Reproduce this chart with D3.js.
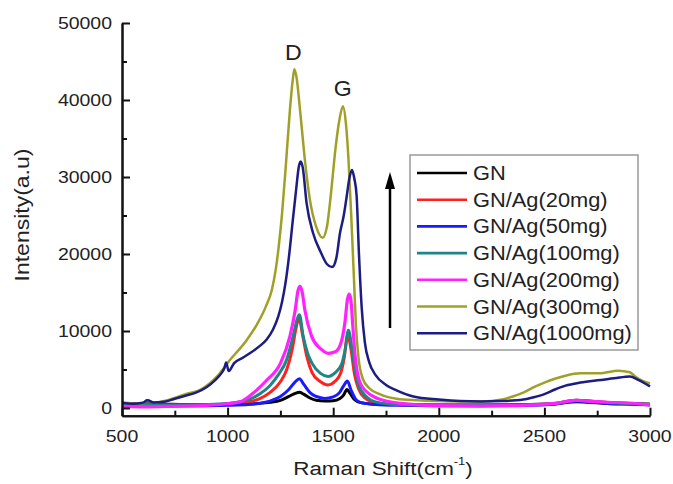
<!DOCTYPE html>
<html><head><meta charset="utf-8">
<script src="https://cdn.jsdelivr.net/npm/d3@7"></script>
<style>body{margin:0;background:#fff}svg{display:block}</style>
</head><body>
<script>
// ---- data ----
const seriesNames = ["GN","GN/Ag(20mg)","GN/Ag(50mg)","GN/Ag(100mg)","GN/Ag(200mg)","GN/Ag(300mg)","GN/Ag(1000mg)"];
const seriesColors = ["#000000","#ff2020","#1a1aff","#1f8585","#ff22ff","#a0a028","#1c1c82"];
const xTicks = [500,1000,1500,2000,2500,3000];
const yTicks = [0,10000,20000,30000,40000,50000];
const peakLabels = [{t:"D",x:1316,y:46200},{t:"G",x:1550,y:41500}];

const gn = [[500,600],[600,550],[700,500],[800,450],[900,450],[1000,450],[1100,500],[1150,600],[1200,750],[1250,1000],[1290,1500],[1320,1900],[1340,2050],[1360,1800],[1390,1300],[1420,1000],[1460,900],[1500,950],[1530,1200],[1550,1700],[1565,2400],[1580,1900],[1600,1100],[1630,700],[1700,500],[1800,450],[2000,400],[2200,400],[2400,450],[2550,550],[2650,800],[2700,750],[2800,600],[2900,550],[3000,500]];
const ag20 = [[500,500],[600,450],[700,400],[800,400],[900,400],[1000,500],[1100,800],[1150,1200],[1200,2000],[1250,3400],[1280,5000],[1305,7500],[1325,10500],[1338,11700],[1355,9500],[1375,6700],[1400,4600],[1440,3400],[1475,3000],[1510,3500],[1535,4500],[1552,6500],[1568,9500],[1585,7500],[1600,4500],[1620,2500],[1650,1300],[1700,700],[1800,450],[2000,350],[2200,350],[2400,400],[2550,600],[2650,1000],[2700,950],[2800,700],[2900,600],[3000,500]];
const ag50 = [[500,400],[600,350],[700,300],[800,300],[900,300],[1000,350],[1100,450],[1150,600],[1200,900],[1250,1500],[1290,2400],[1320,3400],[1340,3800],[1360,3100],[1390,2000],[1420,1500],[1460,1250],[1500,1450],[1530,2000],[1550,2900],[1567,3500],[1585,2300],[1605,1200],[1630,700],[1700,450],[1800,350],[2000,300],[2200,300],[2400,350],[2550,500],[2650,900],[2700,850],[2800,600],[2900,500],[3000,400]];
const ag100 = [[500,500],[600,450],[700,400],[800,400],[900,450],[1000,600],[1060,800],[1100,1100],[1150,1800],[1200,2900],[1240,4300],[1280,6300],[1310,9300],[1330,11600],[1340,12100],[1358,9300],[1380,7000],[1400,5800],[1440,4500],[1475,4100],[1510,4600],[1540,5700],[1558,7800],[1572,10100],[1590,7500],[1605,4800],[1620,3000],[1660,1400],[1700,800],[1800,450],[2000,350],[2200,350],[2400,400],[2550,600],[2650,1000],[2700,950],[2800,700],[2900,600],[3000,500]];
const ag200 = [[500,200],[600,150],[700,200],[800,250],[900,350],[1000,550],[1060,800],[1120,1900],[1185,3600],[1250,5800],[1295,9300],[1320,12700],[1333,15200],[1342,15800],[1352,15200],[1366,12700],[1398,9300],[1440,7700],[1477,7100],[1510,7300],[1535,8300],[1555,11000],[1568,14200],[1576,14800],[1584,14000],[1592,11000],[1603,7000],[1615,4500],[1630,3100],[1690,1500],[1750,900],[1820,600],[2000,300],[2200,250],[2400,350],[2550,600],[2650,1000],[2700,900],[2800,750],[2900,650],[3000,400]];
const ag300 = [[500,700],[550,600],[600,650],[620,1000],[650,700],[700,900],[750,1300],[800,1800],[870,2350],[950,4100],[1010,6200],[1090,8800],[1140,10900],[1180,13100],[1210,15400],[1228,18000],[1243,21200],[1258,25300],[1276,31600],[1295,38700],[1308,42500],[1316,44000],[1326,43000],[1343,38700],[1366,32200],[1390,27000],[1420,23500],[1450,22100],[1470,23500],[1490,28000],[1510,33500],[1530,37500],[1546,39200],[1560,37000],[1572,32500],[1587,24000],[1598,17000],[1607,11000],[1620,6500],[1640,3800],[1670,2600],[1720,1800],[1800,1200],[1900,1000],[2000,900],[2100,850],[2200,850],[2300,1100],[2350,1500],[2400,2000],[2450,2700],[2500,3300],[2550,3800],[2600,4200],[2670,4500],[2760,4500],[2850,4850],[2905,4650],[2930,4100],[2960,3600],[3000,3200]];
const ag1000 = [[500,700],[550,550],[600,700],[620,1000],[650,700],[700,800],[750,1200],[800,1600],[850,2000],[900,2700],[940,3600],[970,4500],[985,5200],[993,5900],[1005,4800],[1030,5800],[1070,6500],[1105,7100],[1150,8000],[1185,8900],[1215,10200],[1240,11900],[1258,13800],[1275,16400],[1292,20000],[1308,24200],[1325,28500],[1337,31300],[1346,32000],[1356,31200],[1374,26600],[1405,22700],[1440,20300],[1470,18700],[1495,18300],[1515,19500],[1532,22700],[1550,25000],[1564,27500],[1577,29900],[1589,30900],[1600,29800],[1611,27500],[1622,20000],[1635,13000],[1650,8500],[1670,6000],[1700,4300],[1750,3000],[1800,2300],[1880,1500],[2000,1100],[2100,900],[2200,850],[2300,900],[2400,1100],[2450,1400],[2500,1800],[2550,2400],[2600,2900],[2670,3300],[2750,3600],[2830,3850],[2905,4100],[2944,3650],[3000,2800]];
const seriesData = [gn, ag20, ag50, ag100, ag200, ag300, ag1000];

// ---- drawing ----
const W = 673, H = 484;
const FONT = "'Liberation Sans', Arial, sans-serif";
const svg = d3.select("body").append("svg").attr("width", W).attr("height", H);
svg.append("rect").attr("width", W).attr("height", H).attr("fill", "#fff");

const x = d3.scaleLinear().domain([500, 3000]).range([122, 650]);
const y = d3.scaleLinear().domain([-1000, 50000]).range([415.7, 23]);

const line = d3.line().x(d => x(d[0])).y(d => y(d[1])).curve(d3.curveMonotoneX);
const widths = [3,3,3,3,3.2,2.5,2.5];
const g = svg.append("g");
seriesData.forEach((s, i) => {
  g.append("path").datum(s).attr("d", line).attr("fill", "none")
    .attr("stroke", seriesColors[i]).attr("stroke-width", widths[i]).attr("stroke-linejoin", "round");
});

// axes
const yAxisMajor = d3.axisLeft(y).tickValues(yTicks).tickSize(-8).tickSizeOuter(0).tickFormat("");
const yAxisMinor = d3.axisLeft(y).tickValues([5000,15000,25000,35000,45000]).tickSize(-5).tickSizeOuter(0).tickFormat("");
const xAxisMajor = d3.axisBottom(x).tickValues(xTicks).tickSize(-8).tickSizeOuter(0).tickFormat("");
const xAxisMinor = d3.axisBottom(x).tickValues([750,1250,1750,2250,2750]).tickSize(-5).tickSizeOuter(0).tickFormat("");
function styleAxis(sel){ sel.selectAll("path,line").attr("stroke","#111").attr("stroke-width",2); }
svg.append("g").attr("transform", "translate(122,0)").call(yAxisMinor).call(styleAxis);
svg.append("g").attr("transform", "translate(122,0)").call(yAxisMajor).call(styleAxis);
svg.append("g").attr("transform", "translate(0,415.7)").call(xAxisMinor).call(styleAxis);
svg.append("g").attr("transform", "translate(0,415.7)").call(xAxisMajor).call(styleAxis);

function stretchedText(px, py, txt, size, sx, anchor, rot) {
  const t = svg.append("g").attr("transform", `translate(${px},${py})` + (rot ? ` rotate(${rot})` : "") + ` scale(${sx},1)`)
    .append("text").attr("text-anchor", anchor).attr("font-family", FONT).attr("font-size", size)
    .attr("fill", "#222").attr("dy", "0.36em").text(txt);
  return t;
}
yTicks.forEach(v => stretchedText(112, y(v), d3.format("d")(v), 16.5, 1.18, "end"));
xTicks.forEach(v => stretchedText(x(v), 436, d3.format("d")(v), 16.5, 1.18, "middle"));

// axis titles
stretchedText(22, 215, "Intensity(a.u)", 19.5, 1.18, "middle", -90);
const xt = stretchedText(383, 468, "Raman Shift(cm", 19, 1.18, "middle");
xt.append("tspan").attr("font-size", 11).attr("dy", "-0.9em").text("-1");
xt.append("tspan").attr("dy", "0.55em").text(")");

// peak labels
peakLabels.forEach(p => stretchedText(x(p.x) - 1, y(p.y), p.t, 22, 1.05, "middle"));

// arrow
svg.append("line").attr("x1", 390).attr("x2", 390).attr("y1", 328).attr("y2", 185)
  .attr("stroke", "#000").attr("stroke-width", 2.5);
svg.append("path").attr("d", "M390,172 L385,189 L395,189 Z").attr("fill", "#000");

// legend
const lg = svg.append("g");
lg.append("rect").attr("x", 410).attr("y", 155).attr("width", 228).attr("height", 195)
  .attr("fill", "#fff").attr("stroke", "#999").attr("stroke-width", 1.5);
seriesNames.forEach((n, i) => {
  const ly = 173 + i * 26.7;
  lg.append("line").attr("x1", 417).attr("x2", 467).attr("y1", ly).attr("y2", ly)
    .attr("stroke", seriesColors[i]).attr("stroke-width", 2.6);
  stretchedText(473, ly, n, 19.5, 1.12, "start");
});
</script>
</body></html>
